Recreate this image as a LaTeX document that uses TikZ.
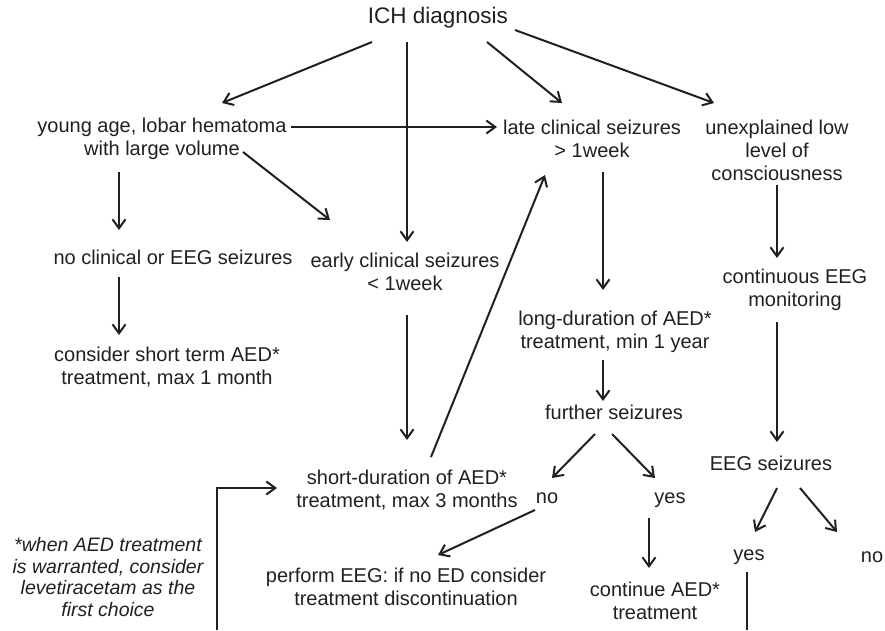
\documentclass[tikz,border=0pt]{standalone}
\usepackage{fontspec}
\setmainfont{Liberation Sans}
\usetikzlibrary{calc,arrows.meta}
\definecolor{ink}{RGB}{35,31,32}

\begin{document}
\begin{tikzpicture}[x=1pt,y=-1pt,
    lbl/.style={align=center,inner sep=0pt,text=ink,font=\fontsize{20}{23}\selectfont},
    arr/.style={-{Straight Barb[length=9pt,width=13pt]},line width=2pt,draw=ink}]
  \useasboundingbox (0,0) rectangle (885,630);
  % boxes
  \node[lbl,font=\fontsize{22.5}{26}\selectfont] (ich) at (438,18) {ICH diagnosis};
  \node[lbl] (young) at (162,139) {young age, lobar hematoma\\with large volume};
  \node[lbl] (late) at (592,139) {late clinical seizures\\> 1week};
  \node[lbl] (unexpl) at (777,150) {unexplained low\\level of\\consciousness};
  \node[lbl] (noclin) at (173,257) {no clinical or EEG seizures};
  \node[lbl] (early) at (405,272) {early clinical seizures\\< 1week};
  \node[lbl] (consider) at (167,367) {consider short term AED*\\treatment, max 1 month};
  \node[lbl] (long) at (615,332) {long-duration of AED*\\treatment, min 1 year};
  \node[lbl] (conteeg) at (795,290) {continuous EEG\\monitoring};
  \node[lbl] (further) at (614,412) {further seizures};
  \node[lbl] (eegsz) at (771,463) {EEG seizures};
  \node[lbl] (short) at (407,490) {short-duration of AED*\\treatment, max 3 months};
  \node[lbl] (noa) at (547,498) {no};
  \node[lbl] (yesa) at (670,500) {yes};
  \node[lbl] (yesb) at (749,557) {yes};
  \node[lbl] (nob) at (872,557) {no};
  \node[lbl] (perform) at (406,587) {perform EEG: if no ED consider\\treatment discontinuation};
  \node[lbl] (contaed) at (655,601) {continue AED*\\treatment};
  \node[lbl,font=\itshape\fontsize{19.5}{21.7}\selectfont] (note) at (108,577)
    {*when AED treatment\\is warranted, consider\\levetiracetam as the\\first choice};
  \coordinate (yesend) at (747,630);
  \coordinate (loopend) at (217,630);
  \coordinate (bend) at (217,488);
  % arrows
  \draw[arr] ($(ich)+(-66,24)$) -- ($(young)+(60,-36)$);
  \draw[arr] ($(ich)+(-31,24)$) -- ($(early)+(2,-30)$);
  \draw[arr] ($(ich)+(49,24)$) -- ($(late)+(-30,-36)$);
  \draw[arr] ($(ich)+(77,12)$) -- ($(unexpl)+(-63,-47)$);
  \draw[arr] ($(young)+(129,-12)$) -- ($(late)+(-95,-12)$);
  \draw[arr] ($(young)+(81,13)$) -- ($(early)+(-75,-52)$);
  \draw[arr] ($(young)+(-43,33)$) -- ($(noclin)+(-54,-27)$);
  \draw[arr] ($(noclin)+(-54,20)$) -- ($(consider)+(-48,-32)$);
  \draw[arr] ($(early)+(2,43)$) -- ($(short)+(0,-50)$);
  \draw[arr] ($(short)+(24,-33)$) -- ($(late)+(-47,36)$);
  \draw[arr] ($(late)+(11,33)$) -- ($(long)+(-12,-42)$);
  \draw[arr] ($(long)+(-12,28)$) -- ($(further)+(-11,-11)$);
  \draw[arr] ($(further)+(-19,22)$) -- ($(noa)+(5,-20)$);
  \draw[arr] ($(further)+(-2,22)$) -- ($(yesa)+(-15,-22)$);
  \draw[arr] ($(noa)+(-12,12)$) -- ($(perform)+(32,-32)$);
  \draw[arr] ($(yesa)+(-21,18)$) -- ($(contaed)+(-6,-33)$);
  \draw[arr] ($(unexpl)+(0,35)$) -- ($(conteeg)+(-18,-32)$);
  \draw[arr] ($(conteeg)+(-18,32)$) -- ($(eegsz)+(6,-21)$);
  \draw[arr] ($(eegsz)+(6,25)$) -- ($(yesb)+(6,-25)$);
  \draw[arr] ($(eegsz)+(29,25)$) -- ($(nob)+(-35,-25)$);
  \draw[line width=2pt,draw=ink] ($(yesb)+(-2,15)$) -- (yesend);
  \draw[arr] (loopend) -- (bend) -- ($(short)+(-130,-2)$);
\end{tikzpicture}
\end{document}
